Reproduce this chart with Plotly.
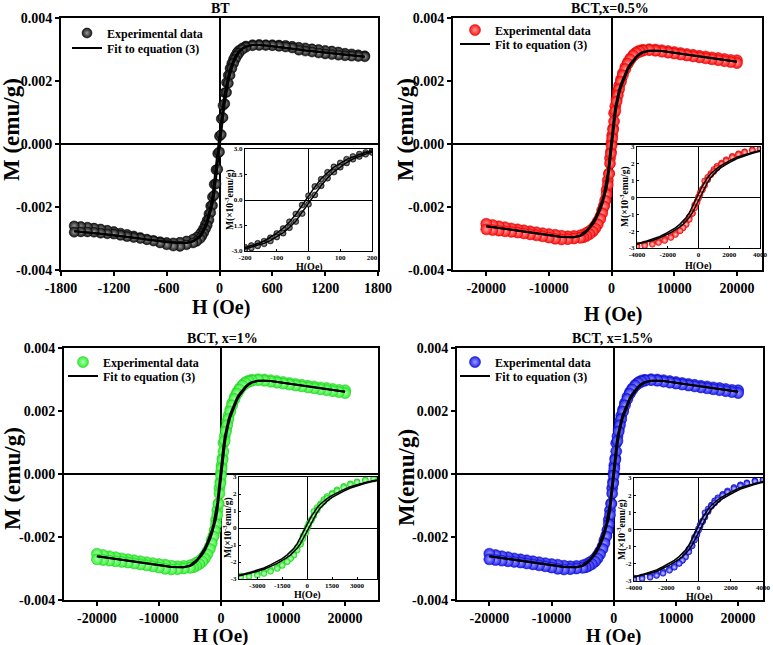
import plotly.graph_objects as go

# ---------------- data (M in units of 1e-3 emu/g) ----------------
H_BT = [1650, 1575, 1500, 1425, 1350, 1275, 1200, 1125, 1050, 975, 900, 825, 750, 675, 600, 525, 450, 375,
        300, 260, 220, 200, 180, 160, 140, 120, 100, 80, 60, 40, 20, 0,
        -20, -40, -60, -80, -100, -120, -140, -160, -180, -200, -220, -260, -300,
        -375, -450, -525, -600, -675, -750, -825, -900, -975, -1050, -1125, -1200, -1275, -1350, -1425, -1500, -1575, -1650]

BT_data_desc = [2.80, 2.83, 2.86, 2.88, 2.92, 2.95, 2.97, 3.00, 3.02, 3.05, 3.07, 3.10, 3.13, 3.14, 3.15, 3.15, 3.16, 3.15,
                3.11, 3.05, 2.97, 2.90, 2.80, 2.70, 2.56, 2.40, 2.18, 1.95, 1.63, 1.22, 0.80, 0.25,
                -0.30, -0.82, -1.28, -1.68, -1.97, -2.22, -2.42, -2.55, -2.68, -2.78, -2.86, -2.96, -3.02,
                -3.08, -3.12, -3.14, -3.13, -3.10, -3.06, -3.02, -2.97, -2.92, -2.87, -2.83, -2.78, -2.74, -2.70, -2.67, -2.64, -2.62, -2.60]
BT_data_asc = [2.77, 2.78, 2.79, 2.80, 2.82, 2.84, 2.86, 2.89, 2.92, 2.95, 2.98, 3.05, 3.08, 3.10, 3.12, 3.13, 3.13, 3.12,
               3.07, 3.00, 2.88, 2.80, 2.69, 2.56, 2.40, 2.18, 1.93, 1.64, 1.28, 0.84, 0.30, -0.25,
               -0.80, -1.27, -1.63, -1.95, -2.18, -2.41, -2.58, -2.70, -2.82, -2.92, -3.00, -3.09, -3.14,
               -3.20, -3.25, -3.24, -3.20, -3.14, -3.08, -3.04, -3.00, -2.97, -2.94, -2.90, -2.86, -2.85, -2.83, -2.80, -2.79, -2.79, -2.80]
BT_fit_desc = [2.77, 2.79, 2.81, 2.83, 2.85, 2.87, 2.90, 2.92, 2.94, 2.97, 3.00, 3.03, 3.06, 3.09, 3.11, 3.13, 3.14, 3.14,
               3.10, 3.04, 2.95, 2.88, 2.79, 2.67, 2.55, 2.39, 2.16, 1.93, 1.61, 1.25, 0.77, 0.22,
               -0.33, -0.85, -1.30, -1.66, -1.95, -2.20, -2.41, -2.57, -2.70, -2.81, -2.90, -3.01, -3.08,
               -3.14, -3.14, -3.13, -3.11, -3.09, -3.06, -3.03, -3.00, -2.97, -2.94, -2.92, -2.90, -2.87, -2.85, -2.83, -2.81, -2.79, -2.77]
BT_fit_asc = [2.77, 2.79, 2.81, 2.83, 2.85, 2.87, 2.90, 2.92, 2.94, 2.97, 3.00, 3.03, 3.06, 3.09, 3.11, 3.13, 3.14, 3.14,
              3.08, 3.01, 2.90, 2.81, 2.70, 2.57, 2.41, 2.20, 1.95, 1.66, 1.30, 0.85, 0.33, -0.22,
              -0.77, -1.25, -1.61, -1.93, -2.16, -2.39, -2.55, -2.67, -2.79, -2.88, -2.95, -3.04, -3.10,
              -3.14, -3.14, -3.13, -3.11, -3.09, -3.06, -3.03, -3.00, -2.97, -2.94, -2.92, -2.90, -2.87, -2.85, -2.83, -2.81, -2.79, -2.77]

H_BCT = [20000, 19000, 18000, 17000, 16000, 15000, 14000, 13000, 12000, 11000, 10000, 9000, 8000, 7000, 6000,
         5000, 4500, 4000, 3500, 3000,
         2600, 2200, 1800, 1500, 1200, 1000, 800, 600, 400, 250, 100, 0,
         -100, -250, -400, -600, -800, -1000, -1200, -1500, -1800, -2200, -2600,
         -3000, -3500, -4000, -4500, -5000,
         -6000, -7000, -8000, -9000, -10000, -11000, -12000, -13000, -14000, -15000, -16000, -17000, -18000, -19000, -20000]

BCT_data_desc = [2.66, 2.67, 2.70, 2.73, 2.75, 2.78, 2.80, 2.83, 2.86, 2.89, 2.92, 2.95, 2.98, 3.00, 3.01,
                 2.99, 2.97, 2.92, 2.84, 2.72,
                 2.60, 2.45, 2.25, 2.05, 1.85, 1.67, 1.42, 1.20, 0.98, 0.50, 0.28, 0.05,
                 -0.24, -0.45, -0.93, -1.15, -1.46, -1.78, -1.95, -2.10, -2.30, -2.45, -2.58,
                 -2.68, -2.76, -2.82, -2.87, -2.90,
                 -2.92, -2.93, -2.91, -2.88, -2.86, -2.83, -2.80, -2.77, -2.74, -2.71, -2.68, -2.64, -2.61, -2.57, -2.53]
BCT_data_asc = [2.57, 2.60, 2.63, 2.66, 2.69, 2.72, 2.75, 2.78, 2.81, 2.84, 2.87, 2.90, 2.93, 2.96, 2.98,
                2.96, 2.93, 2.88, 2.80, 2.68,
                2.55, 2.38, 2.18, 1.98, 1.74, 1.55, 1.35, 1.05, 0.72, 0.45, 0.18, -0.05,
                -0.30, -0.62, -0.95, -1.30, -1.60, -1.80, -1.98, -2.20, -2.38, -2.55, -2.68,
                -2.78, -2.86, -2.92, -2.96, -2.98,
                -3.00, -3.02, -3.03, -3.01, -2.97, -2.93, -2.90, -2.87, -2.84, -2.81, -2.79, -2.77, -2.75, -2.73, -2.71]
BCT_fit_desc = [2.61, 2.64, 2.67, 2.69, 2.72, 2.74, 2.77, 2.80, 2.83, 2.86, 2.89, 2.92, 2.95, 2.96, 2.96,
                2.92, 2.87, 2.79, 2.68, 2.55,
                2.43, 2.26, 2.08, 1.92, 1.73, 1.58, 1.41, 1.19, 0.92, 0.68, 0.40, 0.20,
                0.00, -0.28, -0.55, -0.92, -1.19, -1.41, -1.58, -1.80, -1.98, -2.17, -2.35,
                -2.49, -2.63, -2.75, -2.84, -2.90,
                -2.96, -2.96, -2.95, -2.92, -2.89, -2.86, -2.83, -2.80, -2.77, -2.74, -2.72, -2.69, -2.67, -2.64, -2.61]
BCT_fit_asc = [2.61, 2.64, 2.67, 2.69, 2.72, 2.74, 2.77, 2.80, 2.83, 2.86, 2.89, 2.92, 2.95, 2.96, 2.96,
               2.90, 2.84, 2.75, 2.63, 2.49,
               2.35, 2.17, 1.98, 1.80, 1.58, 1.41, 1.19, 0.92, 0.55, 0.28, 0.00, -0.20,
               -0.40, -0.68, -0.92, -1.19, -1.41, -1.58, -1.73, -1.92, -2.08, -2.26, -2.43,
               -2.55, -2.68, -2.79, -2.87, -2.92,
               -2.96, -2.96, -2.95, -2.92, -2.89, -2.86, -2.83, -2.80, -2.77, -2.74, -2.72, -2.69, -2.67, -2.64, -2.61]

titles = ["BT", "BCT,x=0.5%", "BCT, x=1%", "BCT, x=1.5%"]
y_titles = ["M (emu/g)", "M (emu/g)", "M (emu/g)", "M(emu/g)"]
legend_labels = ["Experimental data", "Fit to equation (3)"]
main_y_ticks = [-0.004, -0.002, 0.0, 0.002, 0.004]
main_y_ticktext = ["-0.004", "-0.002", "0.000", "0.002", "0.004"]
bt_x_ticks = [-1800, -1200, -600, 0, 600, 1200, 1800]
bt_x_ticktext = ["-1800", "-1200", "-600", "0", "600", "1200", "1800"]
bct_x_ticks = [-20000, -10000, 0, 10000, 20000]
bct_x_ticktext = ["-20000", "-10000", "0", "10000", "20000"]
in1_x_ticks = [-200, -100, 0, 100, 200]
in1_y_ticks = [-3.0, -1.5, 0.0, 1.5, 3.0]
in1_y_ticktext = ["-3.0", "-1.5", "0.0", "1.5", "3.0"]
in_x_ticks_a = [-4000, -2000, 0, 2000, 4000]
in_x_ticks_b = [-3000, -1500, 0, 1500, 3000]
in_y_ticks = [-3, -2, -1, 0, 1, 2, 3]

# ---------------- layout helpers ----------------
W, Hh = 773, 645
FONT = "Liberation Serif"


def fx(p):
    return p / W


def fy(p):
    return 1 - p / Hh


panels = [
    dict(H=H_BT, dd=BT_data_desc, da=BT_data_asc, fd=BT_fit_desc, fa=BT_fit_asc,
         color="#141414", grad="#9a9a9a", edge="#000000", icolor="#303030", igrad="#d0d0d0",
         box=(61, 378, 18, 270), xr=[-1800, 1800], xt=bt_x_ticks, xtt=bt_x_ticktext,
         inset=(245, 372, 149, 251), ixr=[-200, 200], ixt=in1_x_ticks, iyt=in1_y_ticks, iytt=in1_y_ticktext,
         title=(221, 8), ytit=(11, 130), xtit=(221, 307), xts=20, leg=(87, 33, 48), msize=10,
         iyt_pos=(229, 200), ixt_pos=(309, 267)),
    dict(H=H_BCT, dd=BCT_data_desc, da=BCT_data_asc, fd=BCT_fit_desc, fa=BCT_fit_asc,
         color="#ff1010", grad="#ff9a9a", edge="#d00000", icolor="#ff2020", igrad="#ffd0d0",
         box=(453, 762, 18, 270), xr=[-25300, 24000], xt=bct_x_ticks, xtt=bct_x_ticktext,
         inset=(637, 760, 147, 248), ixr=[-4000, 4000], ixt=in_x_ticks_a, iyt=in_y_ticks, iytt=[str(v) for v in in_y_ticks],
         title=(610, 8), ytit=(405, 130), xtit=(613, 314), xts=20, leg=(475, 30, 44), msize=11,
         iyt_pos=(624, 197), ixt_pos=(698, 266)),
    dict(H=H_BCT, dd=BCT_data_desc, da=BCT_data_asc, fd=BCT_fit_desc, fa=BCT_fit_asc,
         color="#30f030", grad="#b0ffb0", edge="#20c020", icolor="#30f030", igrad="#d8ffd8",
         box=(64, 378, 348, 600), xr=[-25300, 25300], xt=bct_x_ticks, xtt=bct_x_ticktext,
         inset=(239, 377, 477, 579), ixr=[-4100, 4200], ixt=in_x_ticks_b, iyt=in_y_ticks, iytt=[str(v) for v in in_y_ticks],
         title=(222, 338), ytit=(12, 479), xtit=(221, 636), xts=19, leg=(83, 362, 376), msize=11,
         iyt_pos=(227, 528), ixt_pos=(307, 595)),
    dict(H=H_BCT, dd=BCT_data_desc, da=BCT_data_asc, fd=BCT_fit_desc, fa=BCT_fit_asc,
         color="#2020f0", grad="#a0a0ff", edge="#0000b0", icolor="#2828f0", igrad="#d0d0ff",
         box=(457, 763, 348, 600), xr=[-25200, 24000], xt=bct_x_ticks, xtt=bct_x_ticktext,
         inset=(634, 763, 478, 581), ixr=[-4000, 4000], ixt=in_x_ticks_a, iyt=in_y_ticks, iytt=[str(v) for v in in_y_ticks],
         title=(612, 338), ytit=(406, 478), xtit=(613, 636), xts=19, leg=(475, 362, 376), msize=11,
         iyt_pos=(621, 530), ixt_pos=(699, 597)),
]

fig = go.Figure()
layout = dict(width=W, height=Hh, margin=dict(l=0, r=0, t=0, b=0, autoexpand=False), autosize=False,
              paper_bgcolor="white", plot_bgcolor="rgba(0,0,0,0)", showlegend=True)
annotations = []

tickfont_main = dict(family=FONT, size=14, color="black", weight="bold")
tickfont_in = dict(family=FONT, size=7, color="black", weight="bold")


def ann(text, pos, size, angle=0):
    annotations.append(dict(text=text, x=fx(pos[0]), y=fy(pos[1]), xref="paper", yref="paper",
                            xanchor="center", yanchor="middle", showarrow=False, textangle=angle,
                            font=dict(family=FONT, size=size, color="black", weight="bold")))


for i, p in enumerate(panels):
    k = i + 1
    ki = i + 5
    xa = "x" if k == 1 else f"x{k}"
    ya = "y" if k == 1 else f"y{k}"
    xi = f"x{ki}"
    yi = f"y{ki}"
    leg_data = "legend" if k == 1 else f"legend{2 * k - 1}"
    leg_fit = f"legend{2 * k}"
    Hs = p["H"]
    hx = Hs + Hs
    my = [v * 1e-3 for v in p["dd"] + p["da"]]
    fitx = Hs + [None] + Hs
    fity = [v * 1e-3 for v in p["fd"]] + [None] + [v * 1e-3 for v in p["fa"]]
    fit_in_y = p["fd"] + [None] + p["fa"]
    mk = dict(size=p["msize"], color=p["color"], gradient=dict(type="radial", color=p["grad"]),
              line=dict(width=0.5, color=p["edge"]))
    fig.add_trace(go.Scatter(x=hx, y=my, mode="markers", marker=mk, name=legend_labels[0],
                             xaxis=xa, yaxis=ya, legend=leg_data))
    fig.add_trace(go.Scatter(x=fitx, y=fity, mode="lines", line=dict(color="black", width=2),
                             name=legend_labels[1], xaxis=xa, yaxis=ya, legend=leg_fit))
    # inset
    mki = dict(size=6, color=p["icolor"], gradient=dict(type="radial", color=p["igrad"]),
               line=dict(width=0.5, color=p["edge"]))
    fig.add_trace(go.Scatter(x=hx, y=p["dd"] + p["da"], mode="markers", marker=mki, showlegend=False,
                             xaxis=xi, yaxis=yi))
    fig.add_trace(go.Scatter(x=fitx, y=fit_in_y, mode="lines", line=dict(color="black", width=1.5),
                             showlegend=False, xaxis=xi, yaxis=yi))

    l, r, t, b = p["box"]
    layout[("xaxis" if k == 1 else f"xaxis{k}")] = dict(
        domain=[fx(l), fx(r)], range=p["xr"], anchor=ya, tickvals=p["xt"], ticktext=p["xtt"],
        showgrid=False, zeroline=True, zerolinecolor="black", zerolinewidth=2,
        showline=True, linecolor="black", linewidth=2, mirror=True,
        ticks="outside", ticklen=4, tickwidth=1.5, tickcolor="black", tickfont=tickfont_main)
    layout[("yaxis" if k == 1 else f"yaxis{k}")] = dict(
        domain=[fy(b), fy(t)], range=[-0.004, 0.004], anchor=xa, tickvals=main_y_ticks, ticktext=main_y_ticktext,
        showgrid=False, zeroline=True, zerolinecolor="black", zerolinewidth=2,
        showline=True, linecolor="black", linewidth=2, mirror=True,
        ticks="outside", ticklen=4, tickwidth=1.5, tickcolor="black", tickfont=tickfont_main)
    il, ir, it, ib = p["inset"]
    layout[f"xaxis{ki}"] = dict(
        domain=[fx(il), fx(ir)], range=p["ixr"], anchor=yi, tickvals=p["ixt"], ticktext=[str(v) for v in p["ixt"]],
        showgrid=False, zeroline=True, zerolinecolor="black", zerolinewidth=1,
        showline=True, linecolor="black", linewidth=1, mirror=True,
        ticks="inside", ticklen=2, tickwidth=1, tickcolor="black", tickfont=tickfont_in)
    layout[f"yaxis{ki}"] = dict(
        domain=[fy(ib), fy(it)], range=[-3, 3], anchor=xi, tickvals=p["iyt"], ticktext=p["iytt"],
        showgrid=False, zeroline=True, zerolinecolor="black", zerolinewidth=1,
        showline=True, linecolor="black", linewidth=1, mirror=True,
        ticks="inside", ticklen=2, tickwidth=1, tickcolor="black", tickfont=tickfont_in)
    mx, r1, r2 = p["leg"]
    for name, ry in ((leg_data, r1), (leg_fit, r2)):
        layout[name] = dict(x=fx(mx - 20), y=fy(ry), xanchor="left", yanchor="middle",
                            bgcolor="rgba(0,0,0,0)", borderwidth=0,
                            font=dict(family=FONT, size=12, color="black", weight="bold"))

    ann(titles[i], p["title"], 14)
    ann(y_titles[i], p["ytit"], 23, -90)
    ann("H (Oe)", p["xtit"], p["xts"])
    ann("M(\u00d710<sup>-3</sup>emu/g)", p["iyt_pos"], 9.5, -90)
    ann("H(Oe)", p["ixt_pos"], 10)

layout["annotations"] = annotations
fig.update_layout(**layout)
fig.write_html("out.html",
               post_script="document.documentElement.style.margin='0';document.body.style.margin='0';"
                           "document.body.style.padding='0';document.body.style.overflow='hidden';")
